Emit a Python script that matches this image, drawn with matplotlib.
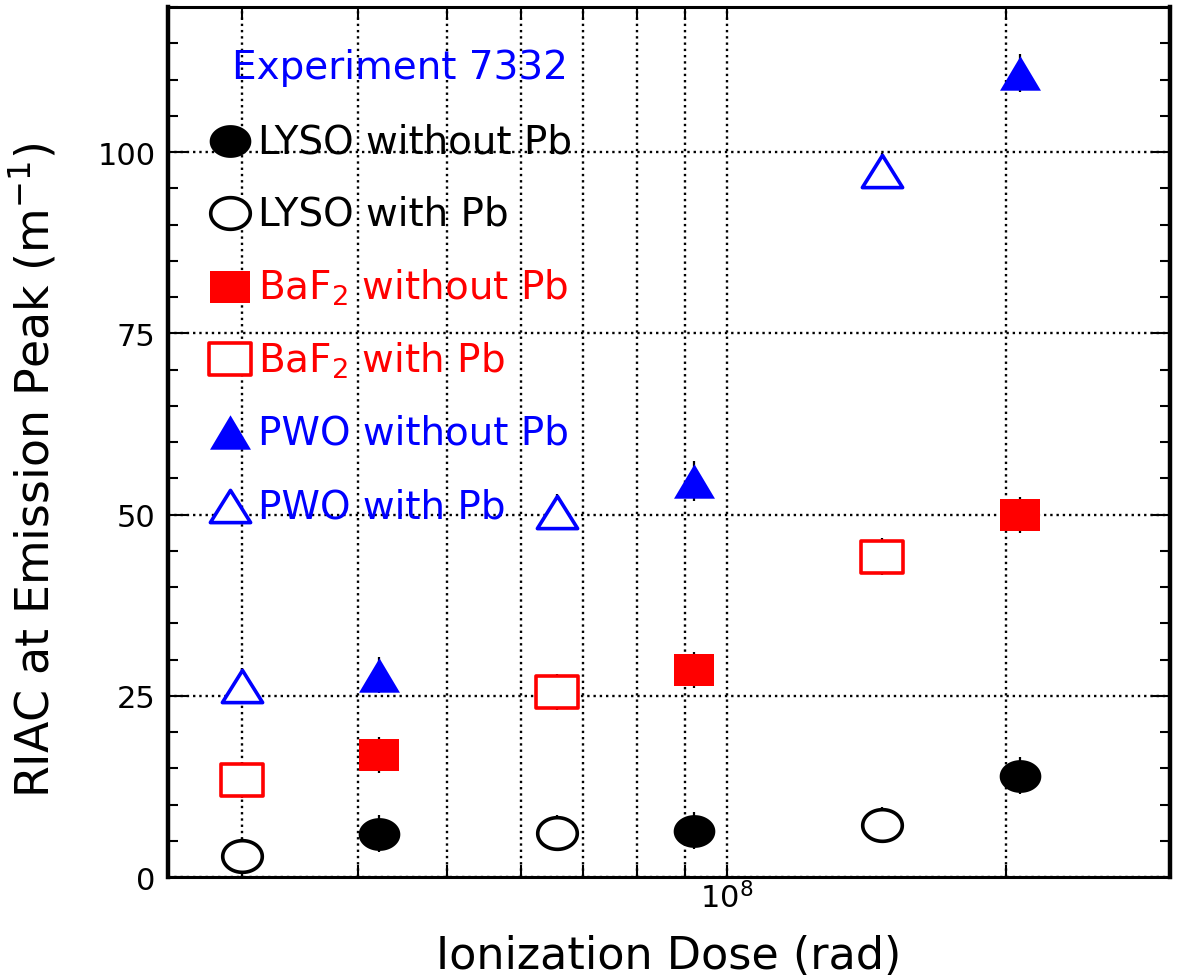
import matplotlib
matplotlib.use('Agg')
import matplotlib.pyplot as plt
from matplotlib.path import Path
from matplotlib.ticker import LogLocator, NullFormatter, MultipleLocator
import numpy as np


# doses (rad): samples behind lead vs. unshielded
dose_with_pb = [3.0e7, 6.56e7, 1.47e8]
dose_without_pb = [4.22e7, 9.21e7, 2.07e8]

# RIAC at emission peak (1/m)
lyso_without = [6.0, 6.4, 14.0]
lyso_with = [2.9, 6.1, 7.2]
baf2_without = [16.8, 28.6, 49.9]
baf2_with = [13.4, 25.5, 44.2]
pwo_without = [27.9, 54.6, 110.9]
pwo_with = [26.3, 50.3, 97.4]

lyso_without_err = [2.6, 2.6, 2.6]
lyso_with_err = [2.5, 2.5, 2.5]
baf2_without_err = [2.5, 2.5, 2.5]
baf2_with_err = [2.5, 2.5, 2.5]
pwo_without_err = [2.5, 2.8, 2.6]
pwo_with_err = [2.5, 2.5, 2.5]

labels = ['LYSO without Pb', 'LYSO with Pb',
          'BaF$_2$ without Pb', 'BaF$_2$ with Pb',
          'PWO without Pb', 'PWO with Pb']

BLUE = '#0000ff'
RED = '#ff0000'


def wide_marker(kind, ratio):
    # markers in the original are wider than tall
    if kind == 'o':
        t = np.linspace(0, 2 * np.pi, 72)
        verts = np.column_stack([ratio * np.cos(t), np.sin(t)])
    elif kind == 's':
        verts = [(-ratio, -1), (ratio, -1), (ratio, 1), (-ratio, 1), (-ratio, -1)]
    else:
        verts = [(0, 1), (-ratio, -1), (ratio, -1), (0, 1)]
    return Path(verts, closed=True)


# (x, y, err, color, marker, filled, size)
series = [
    (dose_without_pb, lyso_without, lyso_without_err, 'k', wide_marker('o', 1.27), True, 30),
    (dose_with_pb, lyso_with, lyso_with_err, 'k', wide_marker('o', 1.25), False, 28.5),
    (dose_without_pb, baf2_without, baf2_without_err, RED, wide_marker('s', 1.28), True, 29.5),
    (dose_with_pb, baf2_with, baf2_with_err, RED, wide_marker('s', 1.3), False, 30),
    (dose_without_pb, pwo_without, pwo_without_err, BLUE, wide_marker('^', 1.19), True, 29.5),
    (dose_with_pb, pwo_with, pwo_with_err, BLUE, wide_marker('^', 1.25), False, 29),
]


def marker_style(color, marker, filled, size):
    if filled:
        return dict(marker=marker, markersize=size, markerfacecolor=color,
                    markeredgewidth=0, color=color, linestyle='none')
    return dict(marker=marker, markersize=size, markerfacecolor='white',
                markeredgecolor=color, markeredgewidth=2.6, color=color,
                linestyle='none')


fig = plt.figure(figsize=(11.78, 9.78), dpi=100)
ax = fig.add_axes([0.1426, 0.1022, 0.8506, 0.8896])

for x, y, err, color, marker, filled, size in series:
    ax.errorbar(x, y, yerr=err, fmt='none', ecolor='k', elinewidth=1.6,
                capsize=0, zorder=3)
    ax.plot(x, y, zorder=4, **marker_style(color, marker, filled, size))

# hand-placed key, as in the original
ax.text(0.064, 0.931, 'Experiment 7332', color=BLUE, fontsize=28,
        transform=ax.transAxes, ha='left', va='center')
row_y = [0.846, 0.763, 0.678, 0.595, 0.511, 0.426]
for (x, y, err, color, marker, filled, size), label, ry in zip(series, labels, row_y):
    ax.plot([0.062], [ry], transform=ax.transAxes, clip_on=False, zorder=5,
            **marker_style(color, marker, filled, size))
    ax.text(0.0898, ry, label, color=color, fontsize=28,
            transform=ax.transAxes, ha='left', va='center')

ax.set_xscale('log')
ax.set_xlim(2.5e7, 3e8)
ax.set_ylim(0, 120)
ax.xaxis.set_major_locator(LogLocator(base=10))
ax.xaxis.set_minor_locator(LogLocator(base=10, subs=np.arange(2, 10)))
ax.xaxis.set_minor_formatter(NullFormatter())
ax.yaxis.set_major_locator(MultipleLocator(25))
ax.yaxis.set_minor_locator(MultipleLocator(5))

ax.set_axisbelow(True)
ax.grid(True, which='both', axis='x', linestyle=':', color='k', linewidth=1.7)
ax.grid(True, which='major', axis='y', linestyle=':', color='k', linewidth=1.7)

ax.tick_params(axis='both', which='both', direction='in', top=True, right=True,
               width=1.5)
ax.tick_params(axis='both', which='major', labelsize=22)
ax.tick_params(axis='y', which='major', length=14, pad=9)
ax.tick_params(axis='y', which='minor', length=7)
ax.tick_params(axis='x', which='both', length=9, pad=3)

for side in ['left', 'right']:
    ax.spines[side].set_linewidth(3.2)
for side in ['top', 'bottom']:
    ax.spines[side].set_linewidth(2.2)

ax.set_xlabel('Ionization Dose (rad)', fontsize=32, va='baseline')
ax.xaxis.set_label_coords(0.5, -0.104)
ax.set_ylabel('RIAC at Emission Peak (m$^{-1}$)', fontsize=33)
ax.yaxis.set_label_coords(-0.108, 0.469)

plt.savefig('out.png', dpi=100)
